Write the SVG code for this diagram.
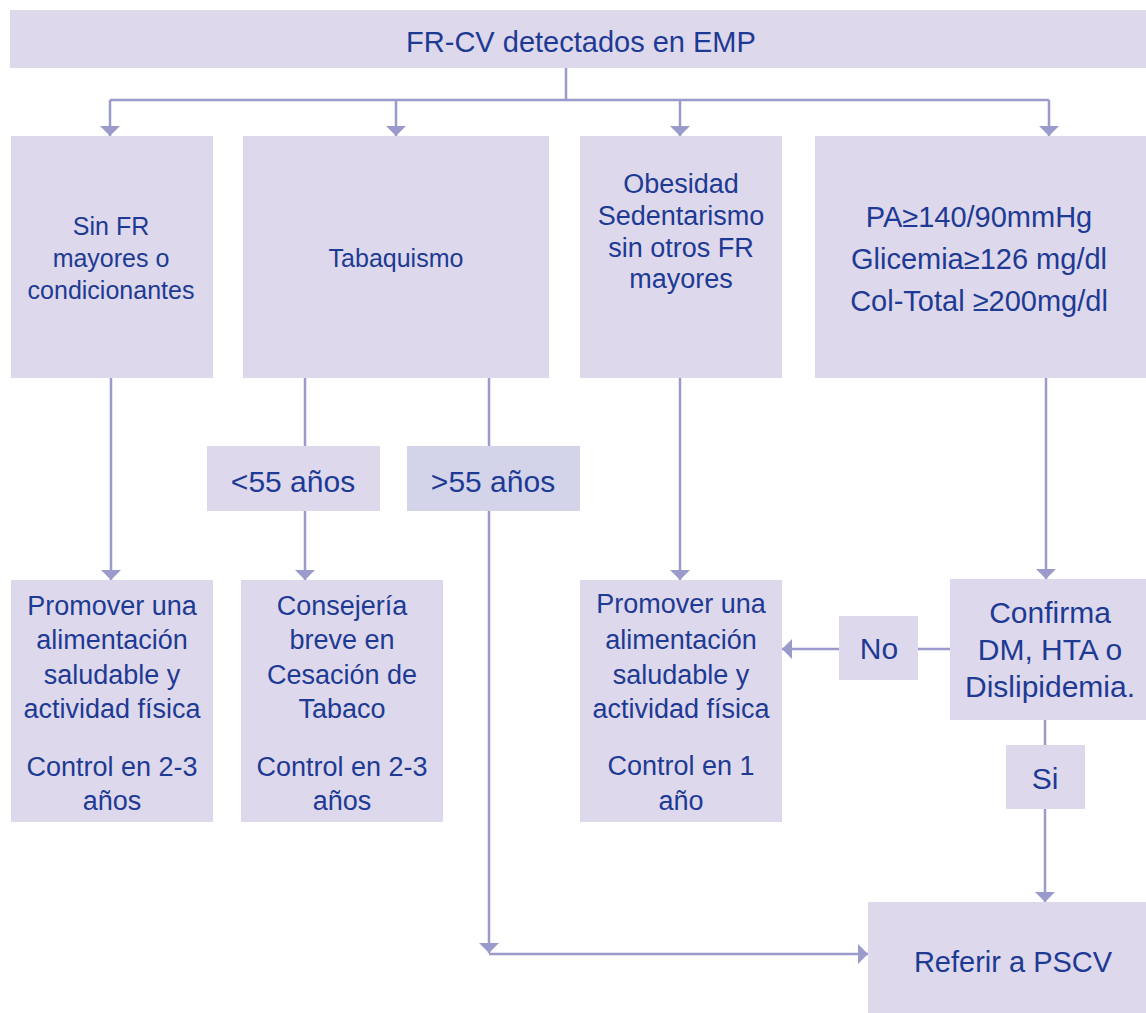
<svg xmlns="http://www.w3.org/2000/svg" width="1146" height="1013" viewBox="0 0 1146 1013">
<defs>
<style>
.box{fill:#ddd8eb;}
.box2{fill:#d3d4ea;}
.t{font-family:"Liberation Sans",Arial,sans-serif;fill:#1d3a94;text-anchor:middle;}
.ln{fill:none;stroke:#9a9bcc;stroke-width:2.5;}
</style>
<marker id="ah" viewBox="0 0 10 20" refX="10" refY="10" markerWidth="10" markerHeight="20" markerUnits="userSpaceOnUse" orient="auto">
<path d="M0,0 L10,10 L0,20 z" fill="#9a9bcc"/>
</marker>
</defs>
<rect width="1146" height="1013" fill="#ffffff"/>

<g id="connectors">
<path class="ln" d="M566,68 V100 M110,100 H1049"/>
<path class="ln" d="M110,100 V136" marker-end="url(#ah)"/>
<path class="ln" d="M396,100 V136" marker-end="url(#ah)"/>
<path class="ln" d="M680,100 V136" marker-end="url(#ah)"/>
<path class="ln" d="M1049,100 V136" marker-end="url(#ah)"/>
<path class="ln" d="M111,378 V580" marker-end="url(#ah)"/>
<path class="ln" d="M305,378 V446"/>
<path class="ln" d="M305,511 V580" marker-end="url(#ah)"/>
<path class="ln" d="M489,378 V446"/>
<path class="ln" d="M489,511 V953" marker-end="url(#ah)"/>
<path class="ln" d="M489,954 H868" marker-end="url(#ah)"/>
<path class="ln" d="M680,378 V580" marker-end="url(#ah)"/>
<path class="ln" d="M1046,378 V579" marker-end="url(#ah)"/>
<path class="ln" d="M950,649 H918"/>
<path class="ln" d="M839,649 H782" marker-end="url(#ah)"/>
<path class="ln" d="M1045,720 V745"/>
<path class="ln" d="M1045,809 V902" marker-end="url(#ah)"/>
</g>

<g id="top">
<rect class="box" x="10" y="10" width="1136" height="58"/>
<text class="t" x="581" y="52" font-size="29">FR-CV detectados en EMP</text>
</g>

<g id="sinfr">
<rect class="box" x="11" y="136" width="202" height="242"/>
<text class="t" font-size="25"><tspan x="111" y="235">Sin FR</tspan><tspan x="111" y="267">mayores o</tspan><tspan x="111" y="299">condicionantes</tspan></text>
</g>

<g id="tabaquismo">
<rect class="box" x="243" y="136" width="306" height="242"/>
<text class="t" x="396" y="267" font-size="25">Tabaquismo</text>
</g>

<g id="obesidad">
<rect class="box" x="580" y="136" width="202" height="242"/>
<text class="t" font-size="27"><tspan x="681" y="193">Obesidad</tspan><tspan x="681" y="225">Sedentarismo</tspan><tspan x="681" y="257">sin otros FR</tspan><tspan x="681" y="288">mayores</tspan></text>
</g>

<g id="pa">
<rect class="box" x="815" y="136" width="331" height="242"/>
<text class="t" font-size="29"><tspan x="979" y="227">PA≥140/90mmHg</tspan><tspan x="979" y="269">Glicemia≥126 mg/dl</tspan><tspan x="979" y="311">Col-Total ≥200mg/dl</tspan></text>
</g>

<g id="menor55">
<rect class="box" x="207" y="446" width="173" height="65"/>
<text class="t" x="293" y="492" font-size="30">&lt;55 años</text>
</g>

<g id="mayor55">
<rect class="box2" x="407" y="446" width="173" height="65"/>
<text class="t" x="493" y="492" font-size="30">&gt;55 años</text>
</g>

<g id="promover1">
<rect class="box" x="11" y="580" width="202" height="242"/>
<text class="t" font-size="27"><tspan x="112" y="615">Promover una</tspan><tspan x="112" y="649">alimentación</tspan><tspan x="112" y="684">saludable y</tspan><tspan x="112" y="718">actividad física</tspan><tspan x="112" y="776">Control en 2-3</tspan><tspan x="112" y="810">años</tspan></text>
</g>

<g id="consejeria">
<rect class="box" x="241" y="580" width="202" height="242"/>
<text class="t" font-size="27"><tspan x="342" y="615">Consejería</tspan><tspan x="342" y="649">breve en</tspan><tspan x="342" y="684">Cesación de</tspan><tspan x="342" y="718">Tabaco</tspan><tspan x="342" y="776">Control en 2-3</tspan><tspan x="342" y="810">años</tspan></text>
</g>

<g id="promover2">
<rect class="box" x="580" y="580" width="202" height="242"/>
<text class="t" font-size="27"><tspan x="681" y="613">Promover una</tspan><tspan x="681" y="649">alimentación</tspan><tspan x="681" y="684">saludable y</tspan><tspan x="681" y="718">actividad física</tspan><tspan x="681" y="775">Control en 1</tspan><tspan x="681" y="810">año</tspan></text>
</g>

<g id="confirma">
<rect class="box" x="950" y="579" width="196" height="141"/>
<text class="t" font-size="30"><tspan x="1050" y="623">Confirma</tspan><tspan x="1050" y="660">DM, HTA o</tspan><tspan x="1050" y="697">Dislipidemia.</tspan></text>
</g>

<g id="no">
<rect class="box" x="839" y="616" width="79" height="64"/>
<text class="t" x="879" y="659" font-size="30">No</text>
</g>

<g id="si">
<rect class="box" x="1006" y="745" width="79" height="64"/>
<text class="t" x="1045" y="789" font-size="30">Si</text>
</g>

<g id="referir">
<rect class="box" x="868" y="902" width="278" height="111"/>
<text class="t" x="1013" y="972" font-size="29">Referir a PSCV</text>
</g>
</svg>
